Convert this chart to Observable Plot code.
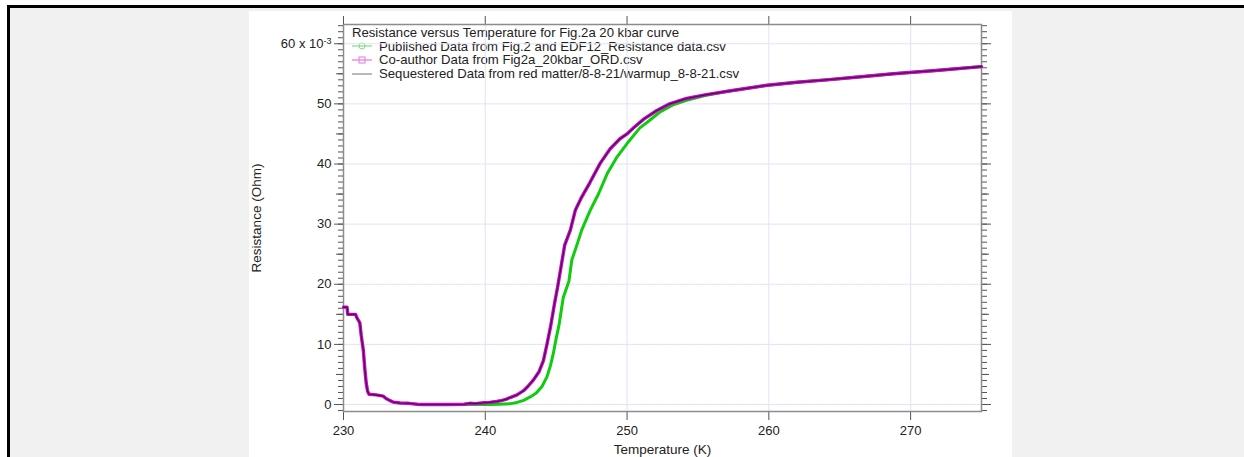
<!DOCTYPE html>
<html>
<head>
<meta charset="utf-8">
<script src="https://cdn.jsdelivr.net/npm/d3@7"></script>
<script src="https://cdn.jsdelivr.net/npm/@observablehq/plot@0.6"></script>
<style>
  html, body { margin: 0; padding: 0; background: #fff; width: 1244px; height: 457px; overflow: hidden; font-family: "Liberation Sans", Arial, sans-serif; }
  #outer { position: absolute; left: 7px; top: 5px; width: 1300px; height: 500px; background: #f1f1f1; border-left: 3px solid #000; border-top: 3px solid #000; }
  #panel { position: absolute; left: 249px; top: 11px; width: 763px; height: 446px; background: #fff; }
  #legend { position: absolute; left: 352px; top: 26px; font-size: 13.15px; color: #222; line-height: 13.6px; }
  #legend .row { display: flex; align-items: center; white-space: nowrap; }
  #legend svg { margin-right: 7px; }
</style>
</head>
<body>
<div id="outer"></div>
<div id="panel"></div>
<div id="legend"></div>
<script>
// ---- data ----
const title = "Resistance versus Temperature for Fig.2a 20 kbar curve";
const seriesNames = [
  "Published Data from Fig.2 and EDF12_Resistance data.csv",
  "Co-author Data from Fig2a_20kbar_ORD.csv",
  "Sequestered Data from red matter/8-8-21/warmup_8-8-21.csv"
];
const xLabel = "Temperature (K)";
const yLabel = "Resistance (Ohm)";
const xTicks = [230, 240, 250, 260, 270];
const yTicks = [0, 10, 20, 30, 40, 50, 60];
const yMedTicks = [5, 15, 25, 35, 45, 55];
const yMinorTicks = [-1,0,1,2,3,4,5,6,7,8,9,10,11,12,13,14,15,16,17,18,19,20,21,22,23,24,25,26,27,28,29,30,31,32,33,34,35,36,37,38,39,40,41,42,43,44,45,46,47,48,49,50,51,52,53,54,55,56,57,58,59,60,61,62,63];

// Published (green)
const publishedT = [238.5, 239.5, 240.35, 241.0, 241.8, 242.24, 242.7, 243.2, 243.6, 244.0, 244.35, 244.6, 244.8, 245.0, 245.2, 245.5, 245.9, 246.1, 246.5, 246.8, 247.4, 248.0, 248.6, 249.3, 250.0, 250.9, 251.4, 252.3, 253.2, 254.2, 255.5, 257.1, 259.9, 262.0, 264.1, 266.5, 268.8, 272.0, 275.0];
const publishedR = [0.0, 0.0, 0.0, 0.05, 0.15, 0.35, 0.7, 1.3, 1.9, 3.0, 4.6, 6.5, 8.5, 11.0, 13.2, 17.8, 20.5, 24.0, 26.8, 29.0, 32.3, 35.1, 38.4, 41.2, 43.4, 46.0, 46.9, 48.6, 49.8, 50.6, 51.4, 52.1, 53.1, 53.6, 54.0, 54.5, 55.0, 55.6, 56.2];

// Co-author (magenta)
const coauthorT = [230.0, 230.25, 230.3, 230.85, 230.95, 231.15, 231.25, 231.4, 231.5, 231.6, 231.7, 231.8, 232.3, 232.8, 233.0, 233.2, 233.5, 234.0, 234.6, 235.2, 235.5, 236.5, 237.5, 238.5, 238.9, 239.3, 239.9, 240.3, 240.8, 241.2, 241.5, 241.8, 242.24, 242.7, 243.0, 243.4, 243.8, 244.1, 244.35, 244.6, 244.9, 245.1, 245.3, 245.6, 246.0, 246.35, 246.8, 247.4, 248.1, 248.8, 249.5, 250.0, 250.5, 251.2, 252.1, 253.0, 254.2, 255.5, 257.1, 259.9, 262.0, 264.1, 266.5, 268.8, 272.0, 275.0];
const coauthorR = [16.2, 16.2, 15.0, 15.0, 14.4, 13.6, 11.5, 9.0, 6.0, 3.6, 2.2, 1.7, 1.6, 1.4, 1.0, 0.75, 0.4, 0.25, 0.2, 0.05, 0.0, 0.0, 0.0, 0.05, 0.2, 0.15, 0.3, 0.35, 0.5, 0.7, 0.9, 1.2, 1.6, 2.3, 3.0, 4.1, 5.5, 7.3, 10.0, 12.9, 17.0, 19.5, 22.3, 26.5, 29.0, 32.3, 34.5, 37.0, 40.1, 42.5, 44.2, 45.0, 46.1, 47.5, 48.9, 50.0, 50.9, 51.5, 52.1, 53.1, 53.6, 54.0, 54.5, 55.0, 55.6, 56.2];

// Sequestered (thin dark line, overlaps co-author data)
const sequesteredT = coauthorT.slice();
const sequesteredR = coauthorR.slice();

const toRows = (T, R) => T.map((t, i) => ({t, r: R[i]}));
const published = toRows(publishedT, publishedR);
const coauthor = toRows(coauthorT, coauthorR);
const sequestered = toRows(sequesteredT, sequesteredR);

const gridColor = "#e2e2f8";
const axisColor = "#8c8c8c";
const tickColor = "#555";
const noText = () => "";
const FONT = "Liberation Sans, Arial, sans-serif";
const TICK_FS = 13;
const LABEL_FS = 13.5;

const chart = Plot.plot({
  width: 763,
  height: 446,
  marginLeft: 94,
  marginRight: 31,
  marginTop: 13,
  marginBottom: 46,
  style: { fontFamily: FONT, fontSize: "13px", color: "#222", background: "transparent" },
  x: { domain: [230, 275] },
  y: { domain: [-1.16, 63.2] },
  marks: [
    Plot.gridX(xTicks.slice(1), { stroke: gridColor, strokeOpacity: 1 }),
    Plot.gridY(yTicks, { stroke: gridColor, strokeOpacity: 1 }),
    // bottom axis
    Plot.axisX({ anchor: "bottom", ticks: xTicks, tickSize: 9, tickPadding: 5, label: null, stroke: tickColor, fontSize: TICK_FS, fill: "#222" }),
    // top axis (ticks only)
    Plot.axisX({ anchor: "top", ticks: xTicks, tickSize: 9, tickFormat: noText, label: null, stroke: tickColor }),
    // left axis
    Plot.axisY({ anchor: "left", ticks: yMinorTicks, tickSize: 5, tickFormat: noText, label: null, stroke: tickColor }),
    Plot.axisY({ anchor: "left", ticks: yMedTicks, tickSize: 7, tickFormat: noText, label: null, stroke: tickColor }),
    Plot.axisY({ anchor: "left", ticks: yTicks, tickSize: 9, tickPadding: 3, label: null, stroke: tickColor, fontSize: TICK_FS, fill: "#222",
      tickFormat: d => d === 60 ? "60 x 10" : String(d) }),
    // right axis (ticks only)
    Plot.axisY({ anchor: "right", ticks: yMinorTicks, tickSize: 5, tickFormat: noText, label: null, stroke: tickColor }),
    Plot.axisY({ anchor: "right", ticks: yMedTicks, tickSize: 7, tickFormat: noText, label: null, stroke: tickColor }),
    Plot.axisY({ anchor: "right", ticks: yTicks, tickSize: 9, tickFormat: noText, label: null, stroke: tickColor }),
    Plot.frame({ stroke: axisColor, strokeWidth: 1.5 }),
    // data
    Plot.line(published, { x: "t", y: "r", stroke: "#10cc10", strokeWidth: 3 }),
    Plot.line(coauthor, { x: "t", y: "r", stroke: "#c010c0", strokeWidth: 3.4 }),
    Plot.line(sequestered, { x: "t", y: "r", stroke: "#300030", strokeWidth: 1.1, strokeOpacity: 0.75 }),
    // axis titles
    Plot.text([xLabel], { frameAnchor: "bottom", dy: 42.5, lineAnchor: "bottom", textAnchor: "middle", text: d => d, fill: "#222", fontSize: LABEL_FS }),
    Plot.text([yLabel], { frameAnchor: "left", dx: -87, rotate: -90, textAnchor: "middle", lineAnchor: "middle", text: d => d, fill: "#222", fontSize: LABEL_FS })
  ]
});

d3.select(chart).attr("font-family", FONT);
d3.select(chart).selectAll("text")
  .filter(function () { return this.textContent === "60 x 10"; })
  .append("tspan").attr("dy", "-0.45em").attr("font-size", "9px").text("-3");

chart.style.position = "absolute";
chart.style.left = "249px";
chart.style.top = "11px";
chart.style.overflow = "visible";
document.body.appendChild(chart);

// legend
const legend = document.getElementById("legend");
const titleDiv = document.createElement("div");
titleDiv.textContent = title;
legend.appendChild(titleDiv);
const symbols = [
  `<svg width="20" height="10"><line x1="0" y1="5" x2="20" y2="5" stroke="#7fe07f" stroke-width="1.2"/><circle cx="10" cy="5" r="3" fill="none" stroke="#7fe07f" stroke-width="1"/></svg>`,
  `<svg width="20" height="10"><line x1="0" y1="5" x2="20" y2="5" stroke="#e27ae2" stroke-width="1.2"/><rect x="7" y="2" width="6" height="6" fill="none" stroke="#e27ae2" stroke-width="1"/></svg>`,
  `<svg width="20" height="10"><line x1="0" y1="5" x2="20" y2="5" stroke="#8a8a8a" stroke-width="1.2"/></svg>`
];
seriesNames.forEach((name, i) => {
  const row = document.createElement("div");
  row.className = "row";
  row.innerHTML = symbols[i] + "<span></span>";
  row.querySelector("span").textContent = name;
  legend.appendChild(row);
});
</script>
</body>
</html>
